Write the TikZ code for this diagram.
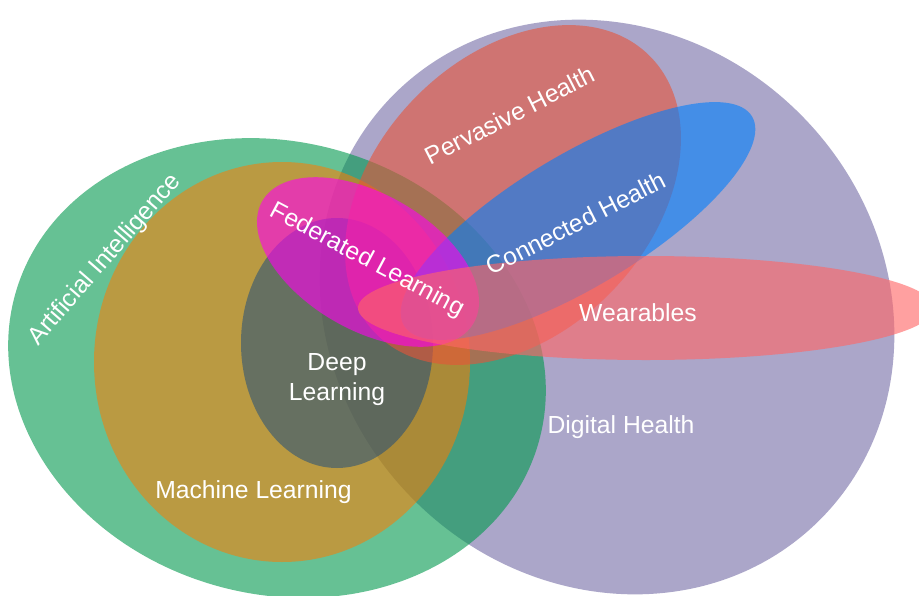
\documentclass[tikz,border=0pt]{standalone}
\usepackage{fontspec}
\setmainfont{Liberation Sans}
\definecolor{dhpurple}{RGB}{171,166,201}
\definecolor{aigreen}{RGB}{0,153,77}
\definecolor{mlorange}{RGB}{255,122,0}
\definecolor{dlnavy}{RGB}{20,72,128}
\definecolor{phred}{RGB}{231,84,56}
\definecolor{chblue}{RGB}{0,126,252}
\definecolor{flmagenta}{RGB}{255,0,240}
\definecolor{wrpink}{RGB}{255,102,102}
\begin{document}
\begin{tikzpicture}[x=1pt,y=-1pt,
  set/.style={fill=#1},
  lbl/.style={text=white, font=\fontsize{24.7}{30}\selectfont, inner sep=0pt,
              anchor=base, align=center}]
\fill[white] (0,0) rectangle (919,595);
\useasboundingbox (0,0) rectangle (919,595);
\clip (0,0) rectangle (919,595);

% Digital Health
\fill[set=dhpurple, shift={(607,307)}, rotate=-45] (0,0) ellipse [x radius=301, y radius=273];
% Artificial Intelligence
\fill[set=aigreen, fill opacity=0.6, shift={(277,368)}, rotate=-16] (0,0) ellipse [x radius=272, y radius=226];
% Machine Learning
\fill[set=mlorange, fill opacity=0.55, shift={(282,362)}] (0,0) ellipse [x radius=188, y radius=200];
% Deep Learning
\fill[set=dlnavy, fill opacity=0.5, shift={(337,343)}] (0,0) ellipse [x radius=96, y radius=125];
% Pervasive Health
\fill[set=phred, fill opacity=0.6, shift={(513,195)}, rotate=46] (0,0) ellipse [x radius=195, y radius=138];
% Connected Health
\fill[set=chblue, fill opacity=0.6, shift={(578,221)}, rotate=31] (0,0) ellipse [x radius=203, y radius=66];
% Federated Learning
\fill[set=flmagenta, fill opacity=0.6, shift={(368,262)}, rotate=-30] (0,0) ellipse [x radius=122, y radius=68];
% Wearables
\fill[set=wrpink, fill opacity=0.62, shift={(646,308)}] (0,0) ellipse [x radius=288, y radius=52];

% labels (anchor at the baseline of the last line)
\node[lbl, rotate=49] (ai) at (110,264) {Artificial Intelligence};
\node[lbl] (ml) at (253.5,498) {Machine Learning};
\node[lbl] (dl) at (337,400) {Deep\\Learning};
\node[lbl, rotate=27] (ph) at (514,123) {Pervasive Health};
\node[lbl, rotate=27] (ch) at (580,231) {Connected Health};
\node[lbl, rotate=-28] (fl) at (364,266) {Federated Learning};
\node[lbl] (wr) at (638,321.5) {Wearables};
\node[lbl] (dh) at (621,433) {Digital Health};
\end{tikzpicture}
\end{document}
